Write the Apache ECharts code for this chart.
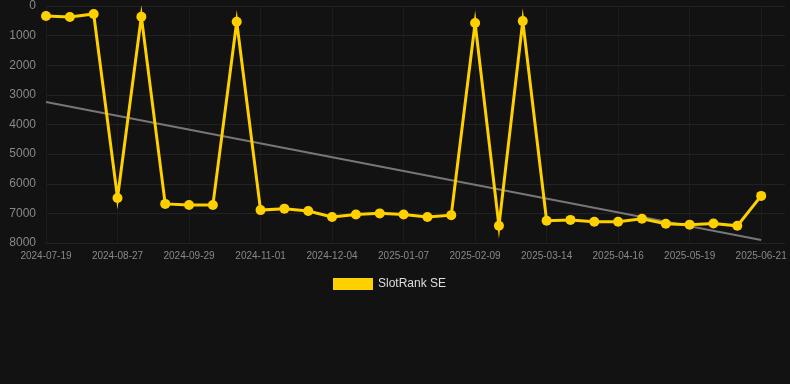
<!DOCTYPE html>
<html>
<head>
<meta charset="utf-8">
<script src="https://cdn.jsdelivr.net/npm/echarts@6/dist/echarts.min.js"></script>
<style>
  html, body { margin: 0; padding: 0; background: #121212; }
  #chart { width: 790px; height: 384px; }
</style>
</head>
<body>
<div id="chart"></div>
<script>
// Weekly-ish snapshot dates (labels shown every 3rd)
const dates = [
  '2024-07-19', '2024-08-01', '2024-08-14', '2024-08-27', '2024-09-07', '2024-09-18',
  '2024-09-29', '2024-10-10', '2024-10-21', '2024-11-01', '2024-11-12', '2024-11-23',
  '2024-12-04', '2024-12-15', '2024-12-26', '2025-01-07', '2025-01-18', '2025-01-29',
  '2025-02-09', '2025-02-20', '2025-03-03', '2025-03-14', '2025-03-25', '2025-04-05',
  '2025-04-16', '2025-04-27', '2025-05-08', '2025-05-19', '2025-05-30', '2025-06-10',
  '2025-06-21'
];

// SlotRank SE rank values
const ranks = [
  340, 370, 270, 6480, 360, 6680, 6720, 6720, 530, 6890, 6840, 6920,
  7120, 7040, 7000, 7040, 7120, 7060, 575, 7420, 510, 7250, 7220, 7280,
  7280, 7180, 7350, 7380, 7340, 7420, 6410
];

// Trend line endpoints
const trendStart = 3240;
const trendEnd = 7900;

const chart = echarts.init(document.getElementById('chart'));

chart.setOption({
  backgroundColor: '#121212',
  animation: false,
  grid: { left: 46, right: 5, top: 6, bottom: 141 },
  legend: {
    top: 273,
    left: 328,
    itemWidth: 40,
    itemHeight: 12,
    icon: 'rect',
    textStyle: { color: '#dddddd', fontSize: 12, fontFamily: 'Liberation Sans, Arial' },
    data: ['SlotRank SE']
  },
  xAxis: {
    type: 'category',
    data: dates,
    boundaryGap: false,
    max: 31,
    axisLine: { show: false },
    axisTick: { show: false },
    axisLabel: {
      interval: 2,
      color: '#888888',
      fontSize: 10,
      margin: 8,
      fontFamily: 'Liberation Sans, Arial'
    },
    splitLine: { show: true, interval: 2, lineStyle: { color: '#1c1c1c', width: 1 } }
  },
  yAxis: {
    type: 'value',
    inverse: true,
    min: 0,
    max: 8000,
    interval: 1000,
    axisLine: { show: false },
    axisTick: { show: false },
    axisLabel: {
      color: '#888888',
      fontSize: 12,
      margin: 10,
      fontFamily: 'Liberation Sans, Arial',
      formatter: (v) => String(v)
    },
    splitLine: { lineStyle: { color: '#222222', width: 1 } }
  },
  series: [
    {
      name: 'Trend',
      type: 'line',
      data: [[dates[0], trendStart], [dates[dates.length - 1], trendEnd]],
      symbol: 'none',
      silent: true,
      lineStyle: { color: '#777777', width: 2 },
      z: 1
    },
    {
      name: 'SlotRank SE',
      type: 'line',
      data: ranks,
      symbol: 'circle',
      symbolSize: 10,
      color: '#ffd000',
      itemStyle: { color: '#ffd000' },
      lineStyle: { color: '#ffd000', width: 3, join: 'miter', miterLimit: 10 },
      z: 3
    }
  ]
});
</script>
</body>
</html>
